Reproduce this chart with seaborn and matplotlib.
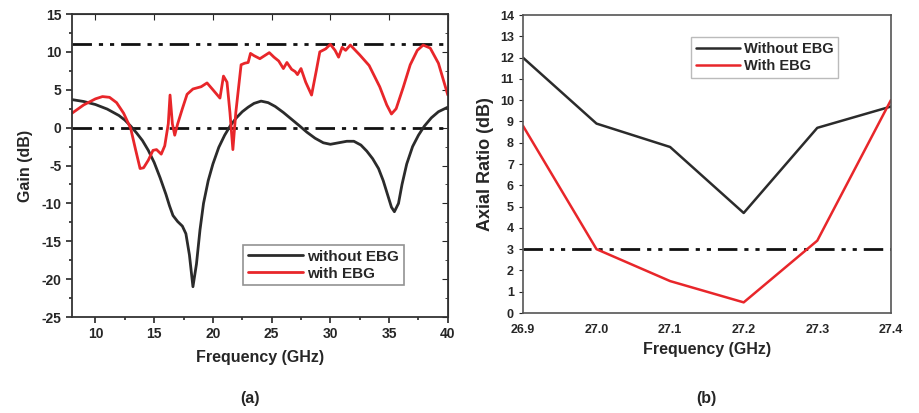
import numpy as np
import pandas as pd
import matplotlib
matplotlib.use("Agg")
import matplotlib.pyplot as plt
import seaborn as sns
from matplotlib.ticker import MultipleLocator

# ---- data (a) Gain vs frequency ----
f_wo = [8, 9, 10, 11, 12, 12.5, 13, 13.5, 14, 14.5, 15, 15.5, 16, 16.3, 16.6, 17, 17.4, 17.7, 18.0, 18.3,
        18.6, 18.9, 19.2, 19.6, 20, 20.5, 21, 21.5, 22, 22.5, 23, 23.5, 24.1, 24.7, 25.3, 26, 26.7, 27.4,
        28, 28.7, 29.4, 30, 30.7, 31.4, 32, 32.6, 33.1, 33.6, 34.1, 34.5, 34.9, 35.2, 35.45, 35.8, 36.1,
        36.5, 37, 37.5, 38, 38.6, 39.2, 40]
g_wo = [3.7, 3.45, 3.05, 2.45, 1.6, 1.0, 0.2, -0.7, -1.7, -3.0, -4.6, -6.6, -8.8, -10.3, -11.6, -12.4,
        -13.0, -14.0, -16.8, -21.0, -18.0, -13.5, -10.0, -7.0, -4.8, -2.6, -1.0, 0.3, 1.3, 2.1, 2.7, 3.2,
        3.5, 3.3, 2.8, 2.0, 1.1, 0.2, -0.6, -1.4, -2.0, -2.2, -2.0, -1.8, -1.8, -2.3, -3.1, -4.1, -5.4,
        -7.0, -9.0, -10.5, -11.1, -10.0, -7.5, -4.8, -2.5, -1.0, 0.2, 1.3, 2.1, 2.7]

f_w = [8, 9, 10, 10.6, 11.2, 11.8, 12.4, 13, 13.4, 13.8, 14.1, 14.5, 14.9, 15.2, 15.6, 15.9, 16.2, 16.35,
       16.55, 16.75, 17.0, 17.4, 17.8, 18.3, 19.0, 19.5, 20.0, 20.6, 20.9, 21.2, 21.45, 21.7, 21.95, 22.4,
       22.7, 23.0, 23.2, 23.5, 24.0, 24.4, 24.8, 25.2, 25.6, 26.0, 26.3, 26.7, 27.0, 27.2, 27.5, 27.9, 28.4,
       28.8, 29.1, 29.6, 30.0, 30.4, 30.7, 31.0, 31.3, 31.7, 32.5, 33.3, 34.2, 34.8, 35.2, 35.6, 36.2, 36.8,
       37.4, 37.9, 38.5, 39.2, 40]
g_w = [1.9, 3.0, 3.8, 4.1, 4.0, 3.3, 1.9, -0.1, -2.8, -5.4, -5.3, -4.3, -3.0, -2.9, -3.5, -2.4, 0.5, 4.3,
       0.5, -1.0, 0.5, 2.5, 4.4, 5.1, 5.4, 5.9, 5.0, 3.9, 6.8, 6.0, 2.0, -2.9, 2.0, 8.3,
       8.5, 8.6, 9.8, 9.5, 9.1, 9.5, 9.9, 9.3, 8.8, 7.8, 8.6, 7.7, 7.4, 7.0, 7.8, 6.0, 4.3,
       7.5, 10.0, 10.4, 11.0, 10.2, 9.3, 10.6, 10.2, 10.9, 9.6, 8.2, 5.4, 3.0, 1.8, 2.5, 5.3, 8.3,
       10.2, 10.9, 10.5, 8.5, 4.3]

# ---- data (b) Axial ratio ----
f_ar = [26.9, 27.0, 27.1, 27.2, 27.3, 27.4]
ar_wo = [12.0, 8.9, 7.8, 4.7, 8.7, 9.7]
ar_w = [8.8, 3.0, 1.5, 0.5, 3.4, 10.0]

gain_refs = [11, 0]
ar_ref = 3

sns.set_style("ticks")
plt.rcParams['font.family'] = ['Liberation Sans', 'DejaVu Sans']
plt.rcParams['font.weight'] = 'bold'
plt.rcParams['axes.unicode_minus'] = False

fig = plt.figure(figsize=(9.19, 4.13), dpi=100)
ax1 = fig.add_axes([0.0783, 0.2324, 0.409, 0.7337])
ax2 = fig.add_axes([0.569, 0.2421, 0.4004, 0.7215])

DASH = (0, (7, 2.5, 1.5, 2.5, 1.5, 2.5))

# ---- panel (a) ----
df_a = pd.concat([
    pd.DataFrame({'f': f_wo, 'g': g_wo, 's': 'without EBG'}),
    pd.DataFrame({'f': f_w, 'g': g_w, 's': 'with EBG'}),
])
sns.lineplot(data=df_a, x='f', y='g', hue='s', palette={'without EBG': '#2b2b2b', 'with EBG': '#e8262a'},
             estimator=None, sort=False, lw=2, ax=ax1)
for r in gain_refs:
    ax1.axhline(r, color='#111111', lw=2, ls=DASH, zorder=1)
ax1.set_xlim(8, 40)
ax1.set_ylim(-25, 15)
ax1.xaxis.set_major_locator(MultipleLocator(5))
ax1.xaxis.set_minor_locator(MultipleLocator(2.5))
ax1.yaxis.set_major_locator(MultipleLocator(5))
ax1.yaxis.set_minor_locator(MultipleLocator(2.5))
ax1.tick_params(which='both', direction='out', labelsize=10, width=1.2)
ax1.tick_params(which='major', length=4)
ax1.tick_params(which='minor', length=2.5)
for sp in ax1.spines.values():
    sp.set_linewidth(1.3)
    sp.set_color('#333333')
top = ax1.secondary_xaxis('top')
top.xaxis.set_major_locator(MultipleLocator(5))
top.tick_params(direction='in', labeltop=False, length=4)
right = ax1.secondary_yaxis('right')
right.yaxis.set_major_locator(MultipleLocator(5))
right.yaxis.set_minor_locator(MultipleLocator(2.5))
right.tick_params(which='both', direction='in', labelright=False, length=4)
right.tick_params(which='minor', length=2.5)
for t in ax1.get_xticklabels() + ax1.get_yticklabels():
    t.set_fontweight('bold')
ax1.set_xlabel('Frequency (GHz)', fontsize=11.5, fontweight='bold', labelpad=6)
ax1.set_ylabel('Gain (dB)', fontsize=11.5, fontweight='bold', labelpad=6)
leg = ax1.legend(loc='lower left', bbox_to_anchor=(0.455, 0.105), borderaxespad=0, fontsize=11, frameon=True,
                 fancybox=False, handlelength=3.6, handletextpad=0.3, borderpad=0.3, labelspacing=0.2)
leg.get_frame().set_edgecolor('#777777')
leg.get_frame().set_linewidth(1.2)
for t in leg.get_texts():
    t.set_fontweight('bold')

# ---- panel (b) ----
df_b = pd.concat([
    pd.DataFrame({'f': f_ar, 'ar': ar_wo, 's': 'Without EBG'}),
    pd.DataFrame({'f': f_ar, 'ar': ar_w, 's': 'With EBG'}),
])
sns.lineplot(data=df_b, x='f', y='ar', hue='s', palette={'Without EBG': '#2b2b2b', 'With EBG': '#e8262a'},
             estimator=None, sort=False, lw=1.8, ax=ax2)
ax2.axhline(ar_ref, color='#111111', lw=2, ls=DASH, zorder=1)
ax2.set_xlim(26.9, 27.4)
ax2.set_ylim(0, 14)
ax2.set_xticks(f_ar)
ax2.set_xticklabels([f"{v:.1f}" for v in f_ar])
ax2.yaxis.set_major_locator(MultipleLocator(1))
ax2.tick_params(axis='y', direction='out', length=3, labelsize=9)
ax2.tick_params(axis='x', length=0, labelsize=9, pad=8)
for sp in ax2.spines.values():
    sp.set_visible(True)
    sp.set_linewidth(1.2)
    sp.set_color('#555555')
for t in ax2.get_xticklabels() + ax2.get_yticklabels():
    t.set_fontweight('bold')
ax2.set_xlabel('Frequency (GHz)', fontsize=11.5, fontweight='bold', labelpad=4)
ax2.set_ylabel('Axial Ratio (dB)', fontsize=13, fontweight='bold', labelpad=4)
leg2 = ax2.legend(loc='upper left', bbox_to_anchor=(0.458, 0.925), borderaxespad=0, fontsize=10.5, frameon=True,
                  fancybox=False, handlelength=3.0, handletextpad=0.3, borderpad=0.3, labelspacing=0.25)
leg2.get_frame().set_edgecolor('#aaaaaa')
leg2.get_frame().set_linewidth(1.0)
for t in leg2.get_texts():
    t.set_fontweight('bold')

fig.text(250 / 919, 1 - 398 / 413, '(a)', ha='center', va='center', fontsize=11.5, fontweight='bold')
fig.text(706 / 919, 1 - 398 / 413, '(b)', ha='center', va='center', fontsize=11.5, fontweight='bold')

fig.savefig('out.png', dpi=100)
